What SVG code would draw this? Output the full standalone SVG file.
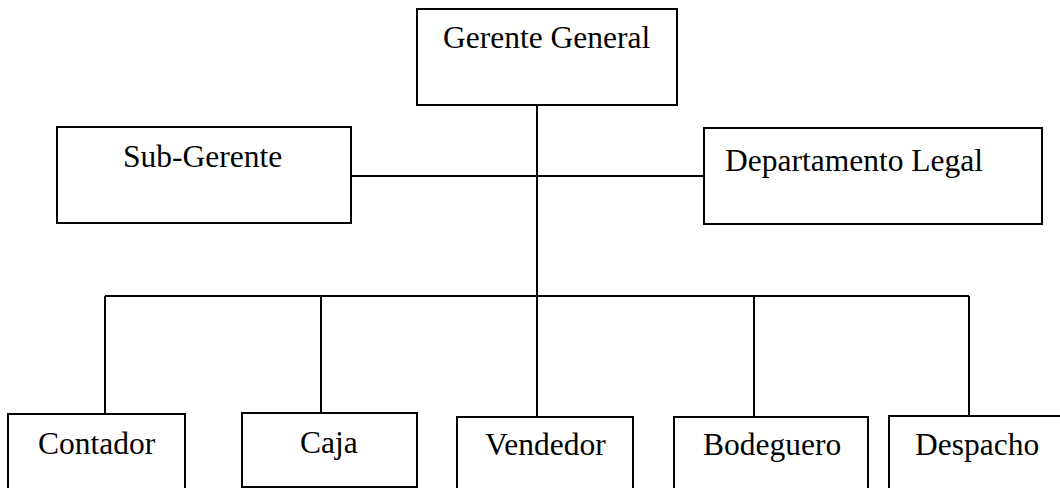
<svg xmlns="http://www.w3.org/2000/svg" width="1060" height="488" viewBox="0 0 1060 488">
<style>
.box{fill:#fff;stroke:#000;stroke-width:2}
.lbl{font-family:"Liberation Serif","Times New Roman",serif;font-size:31.5px;fill:#000}
.conn{fill:none;stroke:#000;stroke-width:2}
</style>
<rect width="1060" height="488" fill="#fff"/>
<g id="connectors">
<line class="conn" x1="537" y1="105" x2="537" y2="417"/>
<line class="conn" x1="351" y1="176" x2="704" y2="176"/>
<line class="conn" x1="105" y1="296" x2="969" y2="296"/>
<line class="conn" x1="105" y1="296" x2="105" y2="414"/>
<line class="conn" x1="321" y1="296" x2="321" y2="413"/>
<line class="conn" x1="754" y1="296" x2="754" y2="417"/>
<line class="conn" x1="969" y1="296" x2="969" y2="416"/>
</g>
<g id="gerente-general">
<rect class="box" x="417" y="9" width="260" height="96"/>
<text class="lbl" x="443" y="48">Gerente General</text>
</g>
<g id="sub-gerente">
<rect class="box" x="57" y="127" width="294" height="96"/>
<text class="lbl" x="123" y="167">Sub-Gerente</text>
</g>
<g id="departamento-legal">
<rect class="box" x="704" y="128" width="338" height="96"/>
<text class="lbl" x="725" y="171">Departamento Legal</text>
</g>
<g id="contador">
<rect class="box" x="8" y="414" width="177" height="110"/>
<text class="lbl" x="38" y="454">Contador</text>
</g>
<g id="caja">
<rect class="box" x="242" y="413" width="175" height="74"/>
<text class="lbl" x="300" y="453">Caja</text>
</g>
<g id="vendedor">
<rect class="box" x="457" y="417" width="176" height="110"/>
<text class="lbl" x="485" y="455">Vendedor</text>
</g>
<g id="bodeguero">
<rect class="box" x="674" y="417" width="194" height="110"/>
<text class="lbl" x="703" y="455">Bodeguero</text>
</g>
<g id="despacho">
<rect class="box" x="889" y="416" width="173" height="110"/>
<text class="lbl" x="915" y="455">Despacho</text>
</g>
</svg>
